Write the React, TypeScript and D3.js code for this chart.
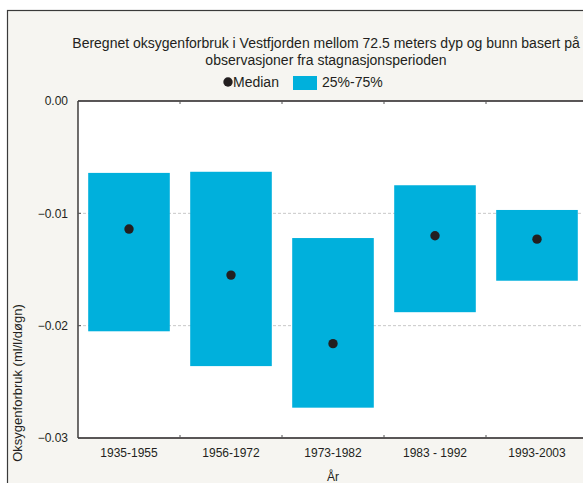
import React from 'react';
import * as d3 from 'd3';

// perioder og verdier lest av figuren (ml/l/døgn)
const periods = ['1935-1955', '1956-1972', '1973-1982', '1983 - 1992', '1993-2003'];
const q25 = [-0.0205, -0.0236, -0.0273, -0.0188, -0.016];
const q75 = [-0.0064, -0.0063, -0.0122, -0.0075, -0.0097];
const medians = [-0.0114, -0.0155, -0.0216, -0.012, -0.0123];
const yTicks = [0, -0.01, -0.02, -0.03];

const W = 583;
const H = 483;
const font = '"Liberation Sans", Arial, sans-serif';
const barColor = '#00b0dc';

export default function App() {
  const margin = { top: 101, left: 78 };
  const plotRight = 588;
  const plotBottom = 438;

  const x = d3.scaleBand()
    .domain(periods)
    .range([margin.left, plotRight])
    .paddingInner(0.2)
    .paddingOuter(0.1);

  // band edges for ticks (without padding)
  const step = x.step();
  const y = d3.scaleLinear().domain([0, -0.03]).range([margin.top, plotBottom]);
  const fmt = d3.format('.2f');

  return (
    <svg width={W} height={H} style={{ position: 'absolute', left: 0, top: 0 }} fontFamily={font}>
      <rect x={0} y={0} width={W} height={H} fill="#fff" />
      <rect x={7.5} y={10.5} width={W + 20} height={H + 20} fill="#f6f5f1" stroke="#3a3a3a" strokeWidth={1.2} />

      <text x={326} y={48} textAnchor="middle" fontSize={14} fill="#231f20">
        Beregnet oksygenforbruk i Vestfjorden mellom 72.5 meters dyp og bunn basert på
      </text>
      <text x={326} y={65} textAnchor="middle" fontSize={14} fill="#231f20">
        observasjoner fra stagnasjonsperioden
      </text>

      {/* legend */}
      <circle cx={228} cy={82} r={4.7} fill="#231f20" />
      <text x={233} y={87} fontSize={14} fill="#231f20">Median</text>
      <rect x={293} y={76} width={24} height={14} fill={barColor} />
      <text x={322} y={87} fontSize={14} fill="#231f20">25%-75%</text>

      {/* plot area */}
      <rect x={margin.left} y={margin.top} width={plotRight - margin.left} height={plotBottom - margin.top} fill="#fff" />

      {yTicks.filter(t => t !== 0 && t !== -0.03).map(t => (
        <line key={t} x1={margin.left} x2={plotRight} y1={y(t)} y2={y(t)}
          stroke="#c8c8c8" strokeWidth={1} strokeDasharray="3,2" />
      ))}

      {periods.map((p, i) => (
        <rect key={p} x={x(p)} width={x.bandwidth()}
          y={y(q75[i])} height={y(q25[i]) - y(q75[i])} fill={barColor} />
      ))}

      {periods.map((p, i) => (
        <circle key={p} cx={(x(p) as number) + x.bandwidth() / 2} cy={y(medians[i])} r={4.7} fill="#231f20" />
      ))}

      {/* axes */}
      <line x1={margin.left} x2={plotRight} y1={margin.top} y2={margin.top} stroke="#231f20" strokeWidth={1.3} />
      <line x1={margin.left} x2={plotRight} y1={plotBottom} y2={plotBottom} stroke="#231f20" strokeWidth={1.3} />
      <line x1={margin.left} x2={margin.left} y1={margin.top} y2={plotBottom} stroke="#231f20" strokeWidth={1.3} />

      {periods.slice(1).map((p, i) => {
        const xt = margin.left + step * (i + 1);
        return (
          <g key={p}>
            <line x1={xt} x2={xt} y1={margin.top} y2={margin.top + 3} stroke="#555" strokeWidth={1} />
            <line x1={xt} x2={xt} y1={plotBottom} y2={plotBottom - 3} stroke="#555" strokeWidth={1} />
          </g>
        );
      })}

      {yTicks.map(t => (
        <g key={t}>
          <line x1={margin.left} x2={margin.left + 3} y1={y(t)} y2={y(t)} stroke="#555" strokeWidth={1} />
          <text x={68} y={y(t)} dy="0.35em" textAnchor="end" fontSize={12} fill="#231f20">{fmt(t)}</text>
        </g>
      ))}

      {periods.map(p => (
        <text key={p} x={(x(p) as number) + x.bandwidth() / 2} y={457} textAnchor="middle" fontSize={12} fill="#231f20">{p}</text>
      ))}

      <text x={333} y={481} textAnchor="middle" fontSize={12} fill="#231f20">År</text>
      <text transform="translate(22,383) rotate(-90)" textAnchor="middle" fontSize={13} fill="#231f20">
        Oksygenforbruk (ml/l/døgn)
      </text>
    </svg>
  );
}
